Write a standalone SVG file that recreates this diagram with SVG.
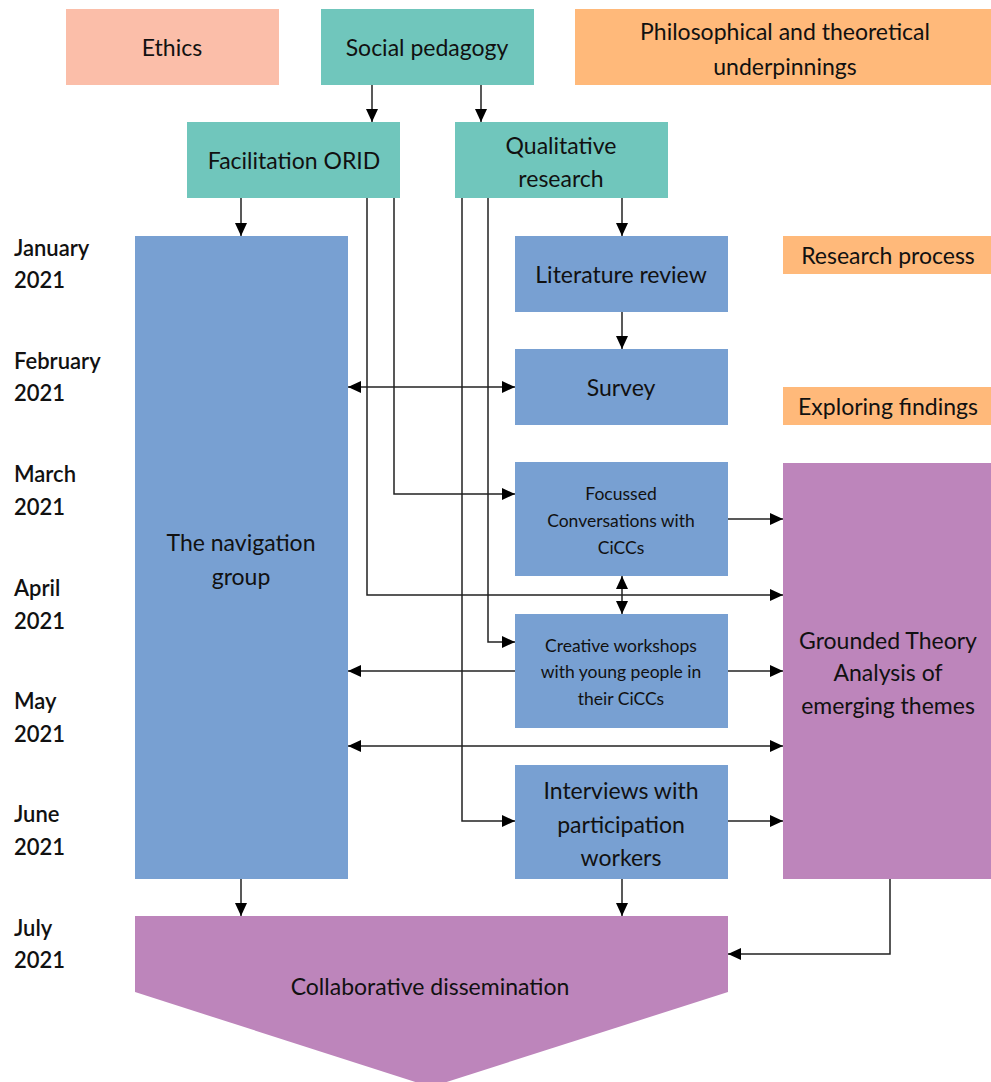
<svg xmlns="http://www.w3.org/2000/svg" width="991" height="1082" viewBox="0 0 991 1082">
<style>
text{font-family:Lato,"Noto Sans","DejaVu Sans",sans-serif;fill:#111;text-anchor:middle;dominant-baseline:central}
.big{font-size:23px}
.small{font-size:17.5px}
.month{font-size:22px;text-anchor:start;font-weight:600}
.c{stroke:#222;stroke-width:1.5;fill:none}
.teal{fill:#70C6BC}.blue{fill:#78A0D2}.purple{fill:#BD85BB}.orange{fill:#FFB97A}.salmon{fill:#FBBEA9}
</style>
<defs>
<marker id="ah" markerUnits="userSpaceOnUse" markerWidth="13" markerHeight="12" refX="13" refY="6" orient="auto-start-reverse">
<path d="M0,0 L13,6 L0,12 z" fill="#000"/>
</marker>
</defs>
<g id="months">
<text class="month" x="14" y="247">January</text><text class="month" x="14" y="279">2021</text>
<text class="month" x="14" y="360">February</text><text class="month" x="14" y="392">2021</text>
<text class="month" x="14" y="473">March</text><text class="month" x="14" y="506">2021</text>
<text class="month" x="14" y="587">April</text><text class="month" x="14" y="620">2021</text>
<text class="month" x="14" y="700">May</text><text class="month" x="14" y="733">2021</text>
<text class="month" x="14" y="813">June</text><text class="month" x="14" y="846">2021</text>
<text class="month" x="14" y="927">July</text><text class="month" x="14" y="959">2021</text>
</g>
<g id="ethics"><rect class="salmon" x="66" y="9" width="213" height="76"/><text class="big" x="172" y="47">Ethics</text></g>
<g id="social-pedagogy"><rect class="teal" x="321" y="9" width="213" height="76"/><text class="big" x="427" y="47">Social pedagogy</text></g>
<g id="philosophical"><rect class="orange" x="575" y="9" width="416" height="76"/><text class="big" x="785" y="31">Philosophical and theoretical</text><text class="big" x="785" y="66">underpinnings</text></g>
<g id="facilitation"><rect class="teal" x="187" y="122" width="213" height="76"/><text class="big" x="294" y="160">Facilitation ORID</text></g>
<g id="qualitative"><rect class="teal" x="455" y="122" width="213" height="76"/><text class="big" x="561" y="145">Qualitative</text><text class="big" x="561" y="178">research</text></g>
<g id="navigation"><rect class="blue" x="135" y="236" width="213" height="643"/><text class="big" x="241" y="542">The navigation</text><text class="big" x="241" y="576">group</text></g>
<g id="literature"><rect class="blue" x="515" y="236" width="213" height="76"/><text class="big" x="621" y="274">Literature review</text></g>
<g id="research-process"><rect class="orange" x="783" y="236" width="208" height="38"/><text class="big" x="888" y="255">Research process</text></g>
<g id="survey"><rect class="blue" x="515" y="349" width="213" height="76"/><text class="big" x="621" y="387">Survey</text></g>
<g id="exploring"><rect class="orange" x="783" y="387" width="208" height="38"/><text class="big" x="888" y="406">Exploring findings</text></g>
<g id="focussed"><rect class="blue" x="515" y="462" width="213" height="114"/><text class="small" x="621" y="493">Focussed</text><text class="small" x="621" y="520">Conversations with</text><text class="small" x="621" y="547">CiCCs</text></g>
<g id="grounded"><rect class="purple" x="783" y="463" width="208" height="416"/><text class="big" x="888" y="640">Grounded Theory</text><text class="big" x="888" y="672">Analysis of</text><text class="big" x="888" y="705">emerging themes</text></g>
<g id="creative"><rect class="blue" x="515" y="614" width="213" height="114"/><text class="small" x="621" y="645">Creative workshops</text><text class="small" x="621" y="671">with young people in</text><text class="small" x="621" y="698">their CiCCs</text></g>
<g id="interviews"><rect class="blue" x="515" y="765" width="213" height="114"/><text class="big" x="621" y="790">Interviews with</text><text class="big" x="621" y="824">participation</text><text class="big" x="621" y="857">workers</text></g>
<g id="collaborative"><polygon class="purple" points="135,916 728,916 728,992 431,1087 135,992"/><text class="big" x="430" y="986">Collaborative dissemination</text></g>
<g id="connectors">
<path class="c" d="M372,85 V122" marker-end="url(#ah)"/>
<path class="c" d="M481,85 V122" marker-end="url(#ah)"/>
<path class="c" d="M241,198 V236" marker-end="url(#ah)"/>
<path class="c" d="M622,198 V236" marker-end="url(#ah)"/>
<path class="c" d="M622,312 V349" marker-end="url(#ah)"/>
<path class="c" d="M348,387 H515" marker-start="url(#ah)" marker-end="url(#ah)"/>
<path class="c" d="M394,198 V494 H515" marker-end="url(#ah)"/>
<path class="c" d="M367,198 V595 H783" marker-end="url(#ah)"/>
<path class="c" d="M488,198 V642 H515" marker-end="url(#ah)"/>
<path class="c" d="M462,198 V821 H515" marker-end="url(#ah)"/>
<path class="c" d="M728,519 H783" marker-end="url(#ah)"/>
<path class="c" d="M622,576 V614" marker-start="url(#ah)" marker-end="url(#ah)"/>
<path class="c" d="M515,671 H348" marker-end="url(#ah)"/>
<path class="c" d="M728,671 H783" marker-end="url(#ah)"/>
<path class="c" d="M348,746 H783" marker-start="url(#ah)" marker-end="url(#ah)"/>
<path class="c" d="M728,821 H783" marker-end="url(#ah)"/>
<path class="c" d="M241,879 V916" marker-end="url(#ah)"/>
<path class="c" d="M622,879 V916" marker-end="url(#ah)"/>
<path class="c" d="M890,879 V954 H728" marker-end="url(#ah)"/>
</g>
</svg>
